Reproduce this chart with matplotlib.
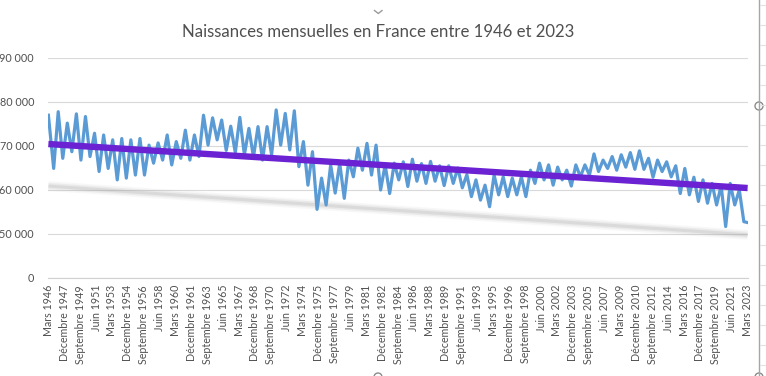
import matplotlib.pyplot as plt
from matplotlib.patches import Circle

plt.rcParams['font.family'] = ['Lato', 'DejaVu Sans']

# naissances mensuelles (milliers) : maximum et minimum saisonnier de chaque année
years = list(range(1946, 2023))
highs = [77.0, 77.8, 75.2, 77.3, 76.7, 72.9, 72.5, 71.4, 71.7, 71.4,
         71.7, 70.2, 70.7, 72.5, 71.0, 73.6, 72.5, 77.0, 76.4, 75.9,
         74.5, 76.5, 74.0, 74.4, 74.4, 78.2, 77.4, 78.0, 71.0, 68.7,
         62.7, 65.7, 66.1, 66.8, 69.5, 70.6, 70.2, 65.7, 66.1, 66.4,
         67.0, 66.0, 66.5, 65.5, 65.5, 65.0, 63.5, 62.3, 61.1, 63.4,
         63.0, 62.7, 63.0, 64.5, 66.1, 65.7, 65.2, 64.5, 65.7, 65.7,
         68.2, 66.8, 67.6, 68.0, 68.5, 68.9, 67.2, 66.8, 66.4, 65.5,
         64.9, 62.9, 62.3, 61.5, 61.0, 61.5, 60.0]
lows = [64.9, 67.2, 68.7, 66.8, 67.6, 64.2, 64.9, 62.3, 62.7, 63.4,
        63.4, 66.1, 66.8, 65.7, 67.2, 66.8, 67.6, 70.2, 71.4, 69.0,
        68.5, 68.0, 67.5, 66.8, 68.0, 70.2, 69.1, 65.3, 61.1, 55.6,
        56.6, 59.3, 58.1, 63.0, 64.5, 63.4, 60.0, 59.2, 62.3, 60.8,
        62.0, 61.5, 62.0, 61.0, 61.5, 60.5, 58.5, 57.7, 56.2, 58.9,
        58.5, 58.9, 58.5, 61.5, 62.3, 61.1, 62.3, 60.9, 63.0, 63.4,
        64.2, 64.9, 64.5, 65.2, 64.7, 64.7, 62.9, 64.2, 63.0, 59.2,
        58.9, 57.4, 57.0, 56.6, 51.7, 56.6, 52.8]
last_value = 52.6  # mars 2023

trend = [70.45, 60.45]    # courbe de tendance linéaire, début / fin
shadow = [60.9, 49.8]     # ombre de la tendance

months_fr = ['Janvier', 'Février', 'Mars', 'Avril', 'Mai', 'Juin', 'Juillet',
             'Août', 'Septembre', 'Octobre', 'Novembre', 'Décembre']
n_months = 925  # de mars 1946 à mars 2023
label_step = 21

# index des mois (0 = mars 1946)
xs, ys = [], []
for y, hi, lo in zip(years, highs, lows):
    base = (y - 1946) * 12
    xs.append(0 if y == 1946 else base + 1)  # avril
    ys.append(hi * 1000)
    xs.append(base + 7)                      # octobre
    ys.append(lo * 1000)
xs.append(n_months - 1)
ys.append(last_value * 1000)

tick_idx = list(range(0, n_months, label_step))
tick_lab = [f"{months_fr[(2 + i) % 12]} {1946 + (2 + i) // 12}" for i in tick_idx]

fig = plt.figure(figsize=(7.66, 3.76), dpi=100)
W, H = 766, 376
ax = fig.add_axes([48 / W, 1 - 278 / H, 700 / W, 220 / H])

# ombre puis tendance
for lw, a in [(7, 0.07), (4.5, 0.13), (2.2, 0.2)]:
    ax.plot([0, n_months - 1], [v * 1000 for v in shadow], color='#9a9a9a',
            lw=lw, alpha=a, solid_capstyle='butt', zorder=1)
ax.plot(xs, ys, color='#5B9BD5', lw=2.3, zorder=2, solid_joinstyle='round')
ax.plot([0, n_months - 1], [v * 1000 for v in trend], color='#6A22D3',
        lw=4.6, solid_capstyle='butt', zorder=3)

ax.set_xlim(-0.5, n_months - 0.5)
ax.set_ylim(40000, 90000)
ax.set_yticks([40000, 50000, 60000, 70000, 80000, 90000])
ax.set_yticklabels(['0', '50 000', '60 000', '70 000', '80 000', '90 000'])
ax.set_xticks(tick_idx)
ax.set_xticklabels(tick_lab, rotation=90)
ax.grid(axis='y', color='#d9d9d9', lw=0.8)
ax.set_axisbelow(True)
for s in ['top', 'right', 'left']:
    ax.spines[s].set_visible(False)
ax.spines['bottom'].set_color('#d0d0d0')
ax.tick_params(axis='y', length=0, pad=10, labelsize=7.8, labelcolor='#505050')
ax.tick_params(axis='x', length=0, pad=5, labelsize=7.7, labelcolor='#505050')

fig.text(378 / W, 1 - 32 / H, 'Naissances mensuelles en France entre 1946 et 2023',
         ha='center', va='center', fontsize=12.1, color='#505050')

# cadre de sélection Excel
ov = fig.add_axes([0, 0, 1, 1], zorder=10)
ov.set_xlim(0, W)
ov.set_ylim(H, 0)
ov.axis('off')
ov.patch.set_visible(False)
ov.plot([759, 759], [0, H], color='#a6a6a6', lw=1)
for yy in range(5, H, 20):
    ov.plot([760, W], [yy, yy], color='#e2e2e2', lw=0.8)
for cx, cy in [(759, 106), (759, 377), (378, 377)]:
    ov.add_patch(Circle((cx, cy), 4, facecolor='white', edgecolor='#8c8c8c', lw=1))
ov.plot([374.5, 378.3, 382], [10.5, 13.5, 10.5], color='#9a9a9a', lw=1)

fig.savefig('out.png', dpi=100)
